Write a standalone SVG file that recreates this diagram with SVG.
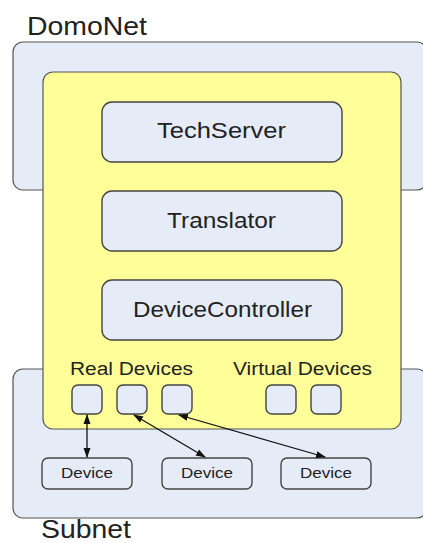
<svg xmlns="http://www.w3.org/2000/svg" width="423" height="543" viewBox="0 0 423 543">
  <style>
    .panel { fill: #e6ecf7; stroke: #555; stroke-width: 1.2; }
    .host { fill: #ffff99; stroke: #555; stroke-width: 1.2; }
    .box { fill: #e6ecf7; stroke: #444; stroke-width: 1.4; }
    .title { font-family: "Liberation Sans", Arial, sans-serif; fill: #222; }
    .link { stroke: #111; stroke-width: 1.3; fill: none; marker-start: url(#tip); marker-end: url(#tip); }
  </style>
  <defs>
    <!-- filled arrow tip, used at both ends of each link -->
    <marker id="tip" viewBox="0 0 10 10" refX="9" refY="5" markerWidth="10" markerHeight="10" markerUnits="userSpaceOnUse" orient="auto-start-reverse">
      <path d="M0,1.5 L10,5 L0,8.5 z" fill="#111"/>
    </marker>
  </defs>

  <text class="title" x="27" y="35" font-size="25" textLength="120" lengthAdjust="spacingAndGlyphs">DomoNet</text>

  <g id="domonet">
    <rect class="panel" x="13" y="42" width="414" height="148" rx="10"/>
  </g>

  <g id="subnet">
    <rect class="panel" x="13" y="369" width="414" height="149" rx="10"/>
  </g>

  <text class="title" x="41" y="538" font-size="25" textLength="90" lengthAdjust="spacingAndGlyphs">Subnet</text>

  <g id="gateway">
    <rect class="host" x="43" y="72" width="358" height="357" rx="10"/>
  </g>

  <g id="techserver">
    <rect class="box" x="102" y="102" width="240" height="60" rx="10"/>
    <text class="title" x="157" y="138" font-size="22" textLength="129" lengthAdjust="spacingAndGlyphs">TechServer</text>
  </g>

  <g id="translator">
    <rect class="box" x="102" y="191" width="240" height="60" rx="10"/>
    <text class="title" x="167" y="228" font-size="22" textLength="109" lengthAdjust="spacingAndGlyphs">Translator</text>
  </g>

  <g id="devicecontroller">
    <rect class="box" x="102" y="280" width="240" height="60" rx="10"/>
    <text class="title" x="133" y="317" font-size="22" textLength="179" lengthAdjust="spacingAndGlyphs">DeviceController</text>
  </g>

  <text class="title" x="70" y="375" font-size="18" textLength="123" lengthAdjust="spacingAndGlyphs">Real Devices</text>
  <text class="title" x="233" y="375" font-size="18" textLength="139" lengthAdjust="spacingAndGlyphs">Virtual Devices</text>

  <g id="real1"><rect class="box" x="72" y="385" width="30" height="29" rx="6"/></g>
  <g id="real2"><rect class="box" x="117" y="385" width="30" height="29" rx="6"/></g>
  <g id="real3"><rect class="box" x="162" y="385" width="30" height="29" rx="6"/></g>
  <g id="virtual1"><rect class="box" x="266" y="385" width="30" height="29" rx="6"/></g>
  <g id="virtual2"><rect class="box" x="311" y="385" width="30" height="29" rx="6"/></g>

  <g id="device1">
    <rect class="box" x="42" y="458" width="90" height="31" rx="6"/>
    <text class="title" x="61" y="478" font-size="15" textLength="52" lengthAdjust="spacingAndGlyphs">Device</text>
  </g>
  <g id="device2">
    <rect class="box" x="162" y="458" width="90" height="31" rx="6"/>
    <text class="title" x="181" y="478" font-size="15" textLength="52" lengthAdjust="spacingAndGlyphs">Device</text>
  </g>
  <g id="device3">
    <rect class="box" x="281" y="458" width="90" height="31" rx="6"/>
    <text class="title" x="300" y="478" font-size="15" textLength="52" lengthAdjust="spacingAndGlyphs">Device</text>
  </g>

  <g id="connectors">
    <line class="link" x1="87" y1="415" x2="87" y2="457"/>
    <line class="link" x1="134" y1="415" x2="205" y2="457"/>
    <line class="link" x1="179" y1="415" x2="325" y2="457"/>
  </g>
</svg>
